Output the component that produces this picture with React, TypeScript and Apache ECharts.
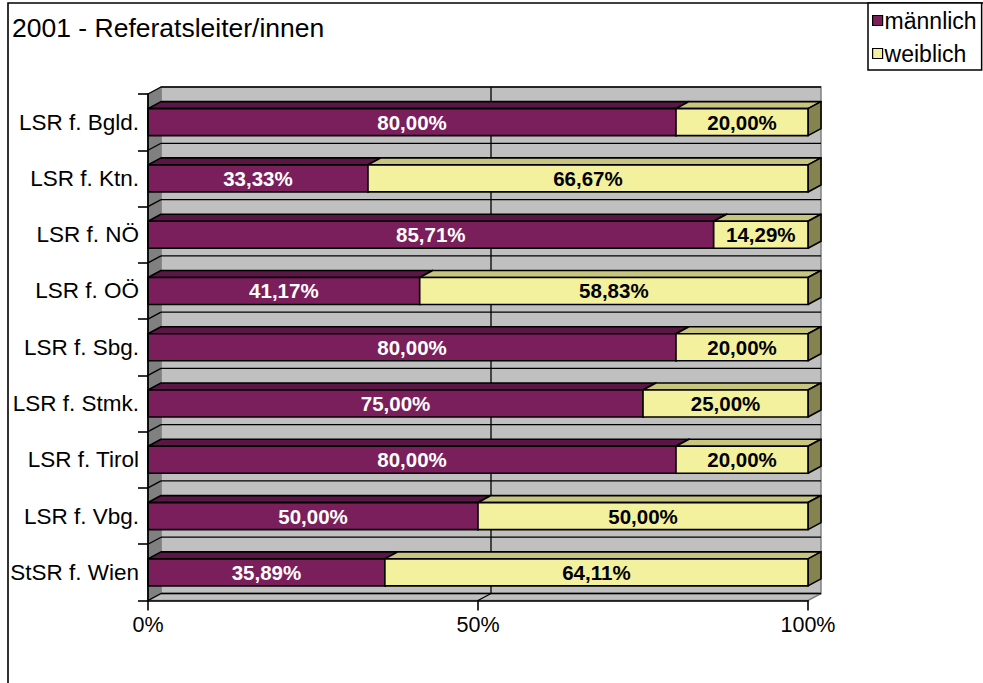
import { useEffect, useRef } from 'react';
import * as echarts from 'echarts';

const titleText = '2001 - Referatsleiter/innen';
const categories = ['LSR f. Bgld.', 'LSR f. Ktn.', 'LSR f. NÖ', 'LSR f. OÖ', 'LSR f. Sbg.', 'LSR f. Stmk.', 'LSR f. Tirol', 'LSR f. Vbg.', 'StSR f. Wien'];
const seriesNames = ['männlich', 'weiblich'];
const maennlich = [80.0, 33.33, 85.71, 41.17, 80.0, 75.0, 80.0, 50.0, 35.89];
const weiblich = [20.0, 66.67, 14.29, 58.83, 20.0, 25.0, 20.0, 50.0, 64.11];
const valueTicks = [0, 50, 100];

const FONT = '"Liberation Sans", Arial, sans-serif';
const DX = 13;
const DY = -7;

const fmt = (v: number) => v.toFixed(2).replace('.', ',') + '%';

function makeBarRender(front: string, top: string, side: string, textColor: string) {
  return (params: any, api: any) => {
    const cat = api.value(0);
    const start = api.value(1);
    const end = api.value(2);
    const val = api.value(3);
    const p0 = api.coord([start, cat]);
    const p1 = api.coord([end, cat]);
    const band = api.size([0, 1])[1];
    const h = band * 0.48;
    const x0 = p0[0];
    const x1 = p1[0];
    const yc = p0[1];
    const yT = yc - h / 2;
    const yB = yc + h / 2;
    const lw = 1.6;
    return {
      type: 'group',
      children: [
        {
          type: 'polygon',
          shape: { points: [[x0, yT], [x0 + DX, yT + DY], [x1 + DX, yT + DY], [x1, yT]] },
          style: { fill: top, stroke: '#000', lineWidth: lw, lineJoin: 'round' },
        },
        {
          type: 'polygon',
          shape: { points: [[x1, yT], [x1 + DX, yT + DY], [x1 + DX, yB + DY], [x1, yB]] },
          style: { fill: side, stroke: '#000', lineWidth: lw, lineJoin: 'round' },
        },
        {
          type: 'rect',
          shape: { x: x0, y: yT, width: x1 - x0, height: h },
          style: { fill: front, stroke: '#000', lineWidth: lw },
        },
        {
          type: 'text',
          style: {
            text: fmt(val),
            x: (x0 + x1) / 2,
            y: yc,
            align: 'center',
            verticalAlign: 'middle',
            fill: textColor,
            font: 'bold 20.5px ' + FONT,
          },
        },
      ],
    };
  };
}

function wallsRender(params: any, api: any) {
  const n = categories.length;
  const band = api.size([0, 1])[1];
  const xL = api.coord([valueTicks[0], 0])[0];
  const xR = api.coord([valueTicks[valueTicks.length - 1], 0])[0];
  const yTop = api.coord([0, 0])[1] - band / 2;
  const yBot = api.coord([0, n - 1])[1] + band / 2;
  const children: any[] = [];
  children.push({
    type: 'polygon',
    shape: { points: [[xL + DX, yTop + DY], [xR + DX, yTop + DY], [xR + DX, yBot + DY], [xL + DX, yBot + DY]] },
    style: { fill: '#C0C0C0', stroke: '#808080', lineWidth: 1.5 },
  });
  children.push({
    type: 'polygon',
    shape: { points: [[xL, yTop], [xL + DX, yTop + DY], [xL + DX, yBot + DY], [xL, yBot]] },
    style: { fill: '#808080', stroke: '#808080', lineWidth: 1 },
  });
  children.push({
    type: 'polygon',
    shape: { points: [[xL, yBot], [xL + DX, yBot + DY], [xR + DX, yBot + DY], [xR, yBot]] },
    style: { fill: '#C0C0C0', stroke: '#808080', lineWidth: 1.5 },
  });
  for (let k = 0; k <= n; k++) {
    const y = yTop + k * band;
    children.push({
      type: 'line',
      shape: { x1: xL + DX, y1: y + DY, x2: xR + DX, y2: y + DY },
      style: { stroke: '#000', lineWidth: 1.3 },
    });
    children.push({
      type: 'line',
      shape: { x1: xL, y1: y, x2: xL + DX, y2: y + DY },
      style: { stroke: '#000', lineWidth: 1.3 },
    });
  }
  valueTicks.slice(1, -1).forEach((v) => {
    const x = api.coord([v, 0])[0];
    children.push({
      type: 'line',
      shape: { x1: x + DX, y1: yTop + DY, x2: x + DX, y2: yBot + DY },
      style: { stroke: '#000', lineWidth: 1.3 },
    });
    children.push({
      type: 'line',
      shape: { x1: x + DX, y1: yBot + DY, x2: x, y2: yBot },
      style: { stroke: '#000', lineWidth: 1.3 },
    });
  });
  return { type: 'group', children };
}

export default function App() {
  const ref = useRef<HTMLDivElement>(null);
  useEffect(() => {
    if (!ref.current) return;
    const chart = echarts.init(ref.current, null, { renderer: 'svg' });
    const maleData = categories.map((_, i) => [i, 0, maennlich[i], maennlich[i]]);
    const femaleData = categories.map((_, i) => [i, maennlich[i], maennlich[i] + weiblich[i], weiblich[i]]);
    chart.setOption({
      animation: false,
      backgroundColor: '#fff',
      title: {
        text: titleText,
        left: 12,
        top: 14,
        padding: 0,
        textStyle: { fontFamily: FONT, fontSize: 26.5, fontWeight: 'normal', color: '#000' },
      },
      legend: {
        orient: 'vertical',
        left: 868,
        top: 3,
        padding: [6, 5, 5, 4],
        itemGap: 10,
        itemWidth: 10,
        itemHeight: 10,
        icon: 'rect',
        borderColor: '#000',
        borderWidth: 1.5,
        backgroundColor: '#fff',
        textStyle: { fontFamily: FONT, fontSize: 23, color: '#000', padding: [0, 0, 0, -3] },
        data: [
          { name: seriesNames[0], itemStyle: { color: '#7A1F5C', borderColor: '#000', borderWidth: 1.2 } },
          { name: seriesNames[1], itemStyle: { color: '#F3F19E', borderColor: '#000', borderWidth: 1.2 } },
        ],
      },
      graphic: [
        {
          type: 'rect',
          z: -10,
          silent: true,
          shape: { x: 8, y: 3, width: 2000, height: 2000 },
          style: { fill: 'none', stroke: '#000', lineWidth: 1.6 },
        },
      ],
      grid: { left: 148, right: 175, top: 94, bottom: 82.5, containLabel: false },
      xAxis: {
        type: 'value',
        min: 0,
        max: 100,
        interval: 50,
        z: 10,
        axisLine: { show: true, lineStyle: { color: '#000', width: 1.6 } },
        axisTick: { show: true, length: 10, lineStyle: { color: '#000', width: 1.6 } },
        splitLine: { show: false },
        axisLabel: { formatter: '{value}%', fontFamily: FONT, fontSize: 21.5, color: '#000', margin: 13 },
      },
      yAxis: {
        type: 'category',
        data: categories,
        inverse: true,
        z: 10,
        axisLine: { show: true, lineStyle: { color: '#000', width: 1.8 } },
        axisTick: { show: true, length: 10, lineStyle: { color: '#000', width: 1.6 } },
        splitLine: { show: false },
        axisLabel: { fontFamily: FONT, fontSize: 22.5, color: '#000', margin: 9 },
      },
      series: [
        {
          type: 'custom',
          name: 'walls',
          silent: true,
          z: 1,
          renderItem: wallsRender,
          encode: { x: 1, y: 0 },
          data: [[0, 0]],
        },
        {
          type: 'custom',
          name: seriesNames[0],
          z: 3,
          itemStyle: { color: '#7A1F5C' },
          renderItem: makeBarRender('#7A1F5C', '#5A1644', '#4A1238', '#fff'),
          encode: { x: [1, 2], y: 0 },
          data: maleData,
        },
        {
          type: 'custom',
          name: seriesNames[1],
          z: 4,
          itemStyle: { color: '#F3F19E' },
          renderItem: makeBarRender('#F3F19E', '#C8C57E', '#85834F', '#000'),
          encode: { x: [1, 2], y: 0 },
          data: femaleData,
        },
      ],
    });
    return () => chart.dispose();
  }, []);
  return <div ref={ref} style={{ position: 'absolute', left: 0, top: 0, width: 983, height: 683 }} />;
}
